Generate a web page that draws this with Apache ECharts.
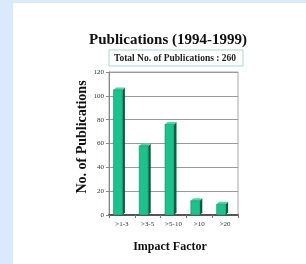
<!DOCTYPE html>
<html lang="en">
<head>
<meta charset="UTF-8">
<title>Publications (1994-1999)</title>
<script src="https://cdn.jsdelivr.net/npm/echarts@6/dist/echarts.min.js"></script>
<style>
  html, body { margin: 0; padding: 0; background: #d9ebfb; width: 306px; height: 264px; overflow: hidden; }
  #chart { position: absolute; left: 13px; top: 3px; width: 293px; height: 261px; background: #fff; }
</style>
</head>
<body>
<div id="chart"></div>
<script>
  var categories = ['>1-3', '>3-5', '>5-10', '>10', '>20'];
  var counts = [105, 58, 76, 12, 9];
  var yTicks = [0, 20, 40, 60, 80, 100, 120];

  var serif = '"Liberation Serif", "DejaVu Serif", serif';
  var chart = echarts.init(document.getElementById('chart'));

  // 3D-ish bar: front face, dark right side, light top
  function renderBar(params, api) {
    var top = api.coord([api.value(0), api.value(1)]);
    var base = api.coord([api.value(0), 0]);
    var w = 9, d = 2.5;
    var fx = top[0] - 8.5;
    var ty = top[1], by = base[1];
    return {
      type: 'group',
      children: [
        { type: 'polygon', shape: { points: [[fx + w, ty], [fx + w + d, ty - d], [fx + w + d, by - d], [fx + w, by]] },
          style: { fill: '#0b5a40' } },
        { type: 'polygon', shape: { points: [[fx, ty], [fx + d, ty - d], [fx + w + d, ty - d], [fx + w, ty]] },
          style: { fill: '#4fd9a8' } },
        { type: 'rect', shape: { x: fx, y: ty, width: w, height: by - ty },
          style: { fill: '#19c38c', stroke: '#0e7a58', lineWidth: 0.5 } }
      ]
    };
  }

  var option = {
    animation: false,
    grid: { left: 96, right: 68, top: 69, bottom: 49, show: true, borderColor: '#aaaaaa', borderWidth: 1 },
    graphic: [
      { type: 'text', style: { text: 'Publications (1994-1999)', x: 155, y: 37,
          align: 'center', verticalAlign: 'middle', font: 'bold 15px ' + serif, fill: '#111' } },
      { type: 'rect', shape: { x: 96, y: 47, width: 134, height: 16 },
        style: { fill: '#fff', stroke: '#a8dccb', lineWidth: 1 } },
      { type: 'text', style: { text: 'Total No. of Publications : 260', x: 162, y: 55.5,
          align: 'center', verticalAlign: 'middle', font: 'bold 9.5px ' + serif, fill: '#222' } },
      { type: 'text', rotation: Math.PI / 2, x: 69, y: 134, style: { text: 'No. of Publications', x: 0, y: 0,
          align: 'center', verticalAlign: 'middle', font: 'bold 14px ' + serif, fill: '#111' } },
      { type: 'text', style: { text: 'Impact Factor', x: 157, y: 244,
          align: 'center', verticalAlign: 'middle', font: 'bold 12px ' + serif, fill: '#111' } }
    ],
    xAxis: {
      type: 'category',
      data: categories,
      axisLine: { lineStyle: { color: '#555', width: 2 } },
      axisTick: { show: true, length: 3, lineStyle: { color: '#777' } },
      axisLabel: { fontFamily: serif, fontSize: 7, color: '#333', margin: 6 }
    },
    yAxis: {
      type: 'value',
      min: yTicks[0],
      max: yTicks[yTicks.length - 1],
      interval: 20,
      axisLine: { show: true, lineStyle: { color: '#888', width: 1 } },
      axisTick: { show: true, length: 3, lineStyle: { color: '#888' } },
      axisLabel: { fontFamily: serif, fontSize: 7, color: '#333', margin: 5 },
      splitLine: { lineStyle: { color: '#9a9a9a', width: 1 } }
    },
    series: [{
      type: 'custom',
      renderItem: renderBar,
      data: counts.map(function (v, i) { return [i, v]; }),
      encode: { x: 0, y: 1 }
    }]
  };
  chart.setOption(option);
</script>
</body>
</html>
